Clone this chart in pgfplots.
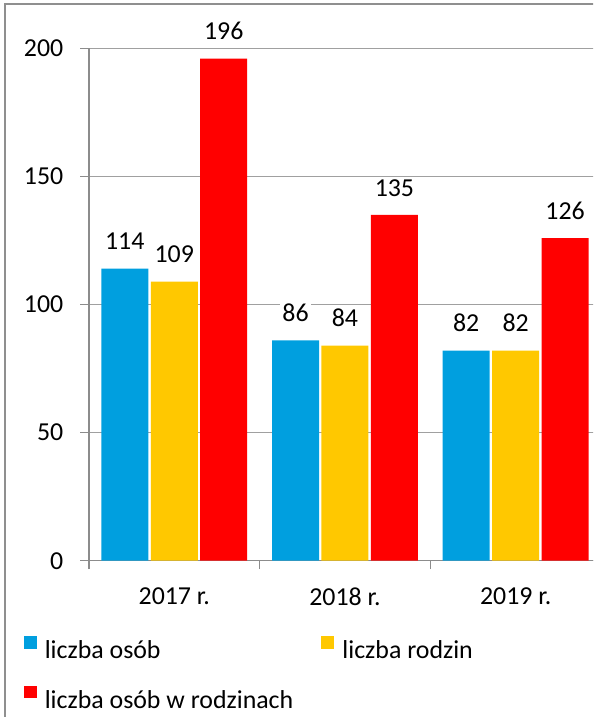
\documentclass[border=0pt]{standalone}
\usepackage{fontspec}
\setmainfont{Carlito}
\usepackage{pgfplots}
\pgfplotsset{compat=1.18}
\definecolor{cblue}{HTML}{009FDF}
\definecolor{cyellow}{HTML}{FFC800}
\definecolor{cred}{HTML}{FF0000}
\definecolor{gridgray}{HTML}{A0A0A0}
\definecolor{axisgray}{HTML}{8C8C8C}
\definecolor{framegray}{HTML}{8F8F8F}
\newcommand{\cf}{\fontsize{19.4}{23}\selectfont}

\begin{document}
\begin{tikzpicture}
\useasboundingbox (0,0) rectangle (444.75pt,537.75pt);
\clip (0,0) rectangle (444.75pt,537.75pt);
\draw[framegray, line width=1.1pt] (3.75pt,-5pt) -- (3.75pt,534.75pt) -- (450pt,534.75pt);
\begin{axis}[
    at={(66.675pt,117.225pt)}, anchor=south west,
    scale only axis,
    width=384.1pt, height=384.15pt,
    xmin=-0.5, xmax=2.5, ymin=0, ymax=200,
    enlargelimits=false,
    clip=false,
    axis x line=bottom, axis y line=left,
    axis line style={-, draw=axisgray, line width=1pt},
    tick align=outside,
    major tick style={draw=axisgray, line width=1pt},
    major tick length=6.3pt,
    ytick={0,50,100,150,200},
    ymajorgrids,
    grid style={gridgray, line width=1pt},
    xtick={-0.5,0.5,1.5,2.5},
    x tick label as interval,
    xticklabels={2017 r., 2018 r., 2019 r.},
    /pgf/number format/assume math mode=true,
    tick label style={font=\cf},
    yticklabel style={inner sep=0pt, xshift=-12.7pt},
    xticklabel style={inner sep=0pt, anchor=north, yshift=-14pt},
    ybar,
    bar width=35.25pt,
    nodes near coords,
    every node near coord/.append style={font=\cf, anchor=base, yshift=14.1pt,
        fill=white, inner xsep=2pt, inner ysep=1pt, text=black},
    legend image code/.code={\fill[#1] (0pt,1.2pt) rectangle (9.75pt,10.9pt);},
    legend columns=2,
    legend cell align=left,
    legend style={at={(-0.1279,-0.1465)}, anchor=north west, draw=none, fill=none,
        inner sep=0pt, font=\cf, nodes={inner sep=0pt}, row sep=18.75pt,
        /tikz/every odd column/.append style={column sep=6.1pt},
        /tikz/every even column/.append style={column sep=21pt}},
]
\addplot[fill=cblue, draw=none, bar shift=-37.1pt] coordinates {(0,114) (1,86) (2,82)};
\addplot[fill=cyellow, draw=none, bar shift=0pt] coordinates {(0,109) (1,84) (2,82)};
\addplot[fill=cred, draw=none, bar shift=37.1pt] coordinates {(0,196) (1,135) (2,126)};
\legend{liczba osób, liczba rodzin, liczba osób w rodzinach}
\end{axis}
\end{tikzpicture}
\end{document}
